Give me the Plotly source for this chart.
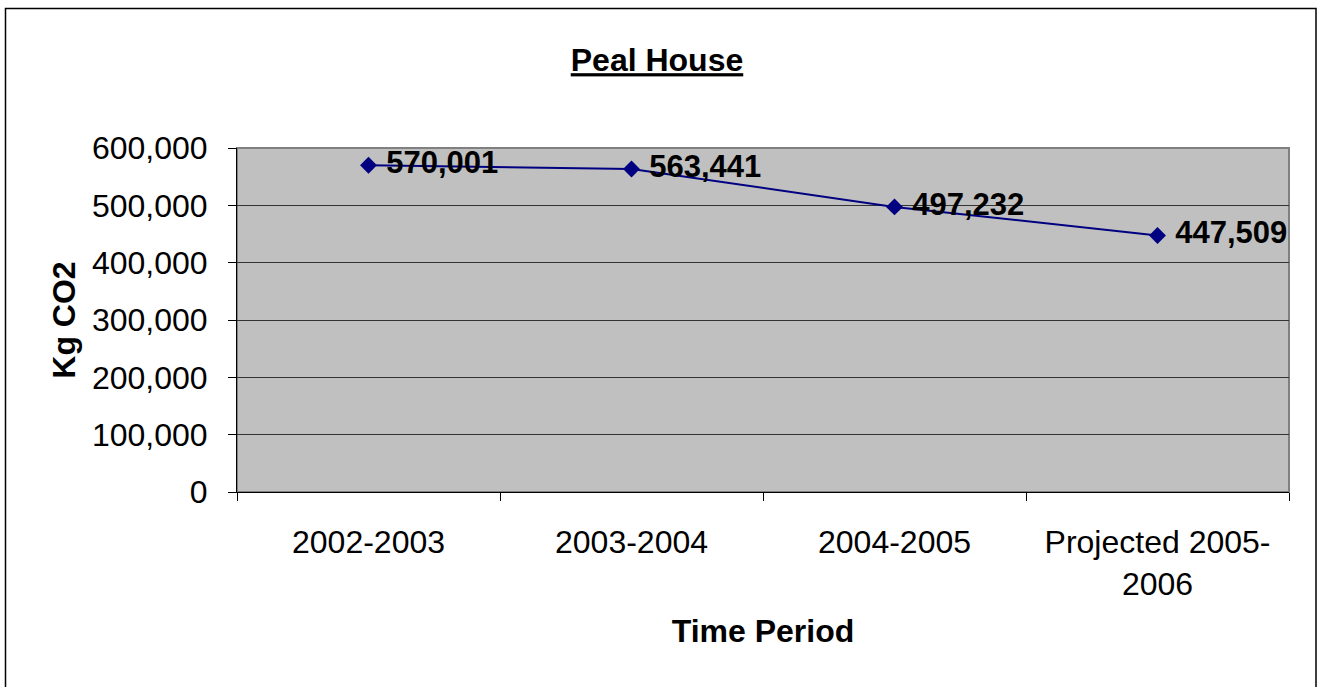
import plotly.graph_objects as go

categories = ["2002-2003", "2003-2004", "2004-2005", "Projected 2005-<br>2006"]
values = [570001, 563441, 497232, 447509]
labels = ["570,001", "563,441", "497,232", "447,509"]

W, H = 1321, 687
# plot area in pixel coordinates
L, R, T, B = 237, 1289, 148, 492
pw, ph = R - L, B - T

def px(x):
    return (x - L) / pw

def py(y):
    return (B - y) / ph

FONT = "Liberation Sans, Arial"

fig = go.Figure()
fig.add_trace(go.Scatter(
    x=categories, y=values, mode="lines+markers+text",
    text=[" " + s for s in labels], textposition="middle right",
    textfont=dict(family=FONT, size=31, color="black", weight="bold"),
    line=dict(color="#000080", width=2),
    marker=dict(symbol="diamond", size=13, color="#000080"),
    cliponaxis=False, showlegend=False,
))

bx0, bx1, by1, by0 = px(5.5), px(1316), py(8.5), py(700)
border_path = f"M {bx0},{by0} L {bx0},{by1} L {bx1},{by1} L {bx1},{by0}"

fig.update_layout(
    width=W, height=H,
    margin=dict(l=L, r=W - R, t=T, b=H - B),
    paper_bgcolor="white", plot_bgcolor="#C0C0C0",
    font=dict(family=FONT, size=32, color="black"),
    title=dict(text="Peal House", xref="container", x=657 / W, xanchor="center",
               yref="container", y=1 - 60 / H, yanchor="middle",
               font=dict(size=32, weight="bold", lineposition="under")),
    xaxis=dict(
        type="category", tickson="boundaries", ticks="outside", ticklen=8, tickcolor="black",
        showline=True, linecolor="black", linewidth=1, showgrid=False,
        range=[-0.5, 3.5], ticklabelstandoff=22,
        title=dict(text="Time Period", font=dict(size=32, weight="bold"), standoff=18),
    ),
    yaxis=dict(
        range=[0, 600000], dtick=100000, tickformat=",", ticks="outside", ticklen=8, tickcolor="black",
        showline=True, linecolor="black", linewidth=1,
        showgrid=True, gridcolor="#333333", gridwidth=1, zeroline=False,
        ticklabelstandoff=14,
        title=dict(text="Kg CO2", font=dict(size=32, weight="bold"), standoff=6),
    ),
    shapes=[
        dict(type="rect", xref="paper", yref="paper", x0=0, x1=1, y0=0, y1=1,
             line=dict(color="#808080", width=2), layer="below"),
        dict(type="path", xref="paper", yref="paper", path=border_path,
             line=dict(color="black", width=1.5), layer="above"),
    ],
)

fig.write_html("out.html",
               config={"displayModeBar": False},
               post_script="document.body.style.margin='0';document.body.style.overflow='hidden';")
